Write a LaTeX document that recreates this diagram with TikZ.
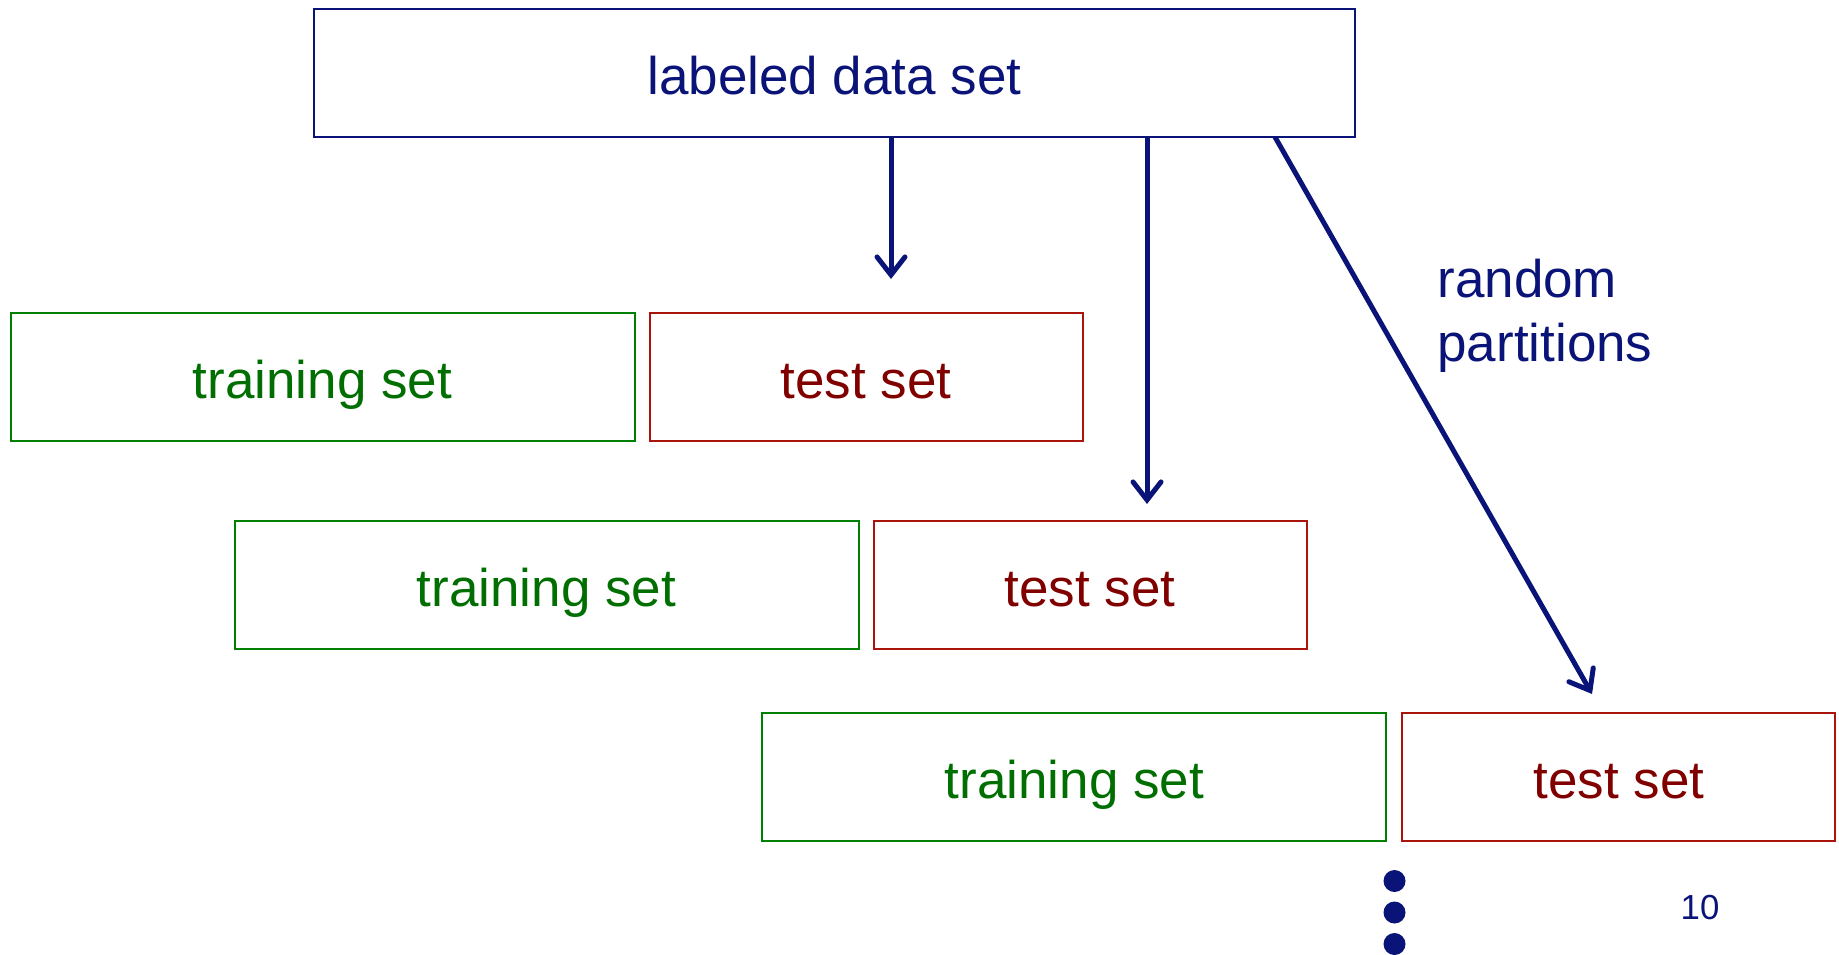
\documentclass[tikz,border=0pt]{standalone}
\usepackage{fontspec}
\setmainfont{Liberation Sans}
\usepackage{xcolor}
\usetikzlibrary{arrows.meta}
\usetikzlibrary{positioning}

\definecolor{navy}{RGB}{10,20,120}
\definecolor{trgreen}{RGB}{0,110,0}
\definecolor{trgreenline}{RGB}{0,128,0}
\definecolor{tsred}{RGB}{128,0,0}
\definecolor{tsredline}{RGB}{170,20,10}

\tikzset{
  setbox/.style={draw, line width=1pt, inner sep=0pt, outer sep=0pt,
    minimum height=64pt, text height=21.5pt, text depth=0pt,
    font=\fontsize{26.5}{30}\selectfont},
  trainbox/.style={setbox, draw=trgreenline, text=trgreen, minimum width=312pt},
  testbox/.style={setbox, draw=tsredline, text=tsred, minimum width=216.5pt},
  split/.style={draw=navy, line width=2.5pt,
    -{Straight Barb[length=9pt,width=14pt,line cap=round]}}
}

\begin{document}
\begin{tikzpicture}[x=0.5pt,y=-0.5pt]
\useasboundingbox (0,0) rectangle (1839,954);

 %whole data set
 \node[setbox, draw=navy, text=navy, minimum width=520.5pt] (data) at (834.5,73) {labeled data set};

 %partitions
 \node[trainbox] (trainA) at (322.5,377) {training set};
 \node[testbox, right=7.5pt of trainA] (testA) {test set};

 \node[trainbox] (trainB) at (546.5,584.5) {training set};
 \node[testbox, right=7.5pt of trainB] (testB) {test set};

 \node[trainbox] (trainC) at (1074.3,777) {training set};
 \node[testbox, right=8pt of trainC] (testC) {test set};

 %arrows
 \coordinate (tipA) at (891,279);
 \coordinate (tipB) at (1147,504);
 \coordinate (tipC) at (1592,694);
 \coordinate (fromC) at (1275,137);
 \draw[split] (data.south -| tipA) -- (tipA);
 \draw[split] (data.south -| tipB) -- (tipB);
 \draw[split] (fromC) -- (tipC);
 \node[anchor=west, align=left, inner sep=0pt, text=navy,
   font=\fontsize{26.5}{32}\selectfont] (rnd) at (1437,316) {random\\partitions};

 %dots
 \foreach \y [count=\i] in {881,912.5,944}
   \fill[navy] (1394.5,\y) circle (5.5pt) coordinate (dot\i);

 \node[text=navy, font=\fontsize{17.4}{20}\selectfont] (pnum) at (1700,907) {10};
\end{tikzpicture}
\end{document}
